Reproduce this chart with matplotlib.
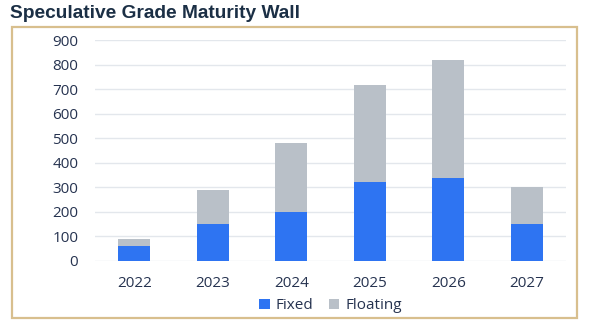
import matplotlib
matplotlib.use("Agg")
import matplotlib.pyplot as plt
from matplotlib.patches import Rectangle
import numpy as np

years = ["2022", "2023", "2024", "2025", "2026", "2027"]
fixed = [60, 150, 200, 320, 340, 150]
floating = [30, 140, 280, 395, 480, 150]
yticks = [0, 100, 200, 300, 400, 500, 600, 700, 800, 900]

fig = plt.figure(figsize=(5.94, 3.28), dpi=100)
W, H = 594, 328

fig.text(10/W, 1 - 14/H, "Speculative Grade Maturity Wall", fontsize=13.8, fontweight="bold",
         family="Liberation Sans", color="#1b2f45", va="center", ha="left")

border = Rectangle((12/W, 1 - 318/H), (577-12)/W, (318-27)/H, transform=fig.transFigure,
                   fill=False, edgecolor="#d8bf8e", linewidth=1.6)
fig.patches.append(border)

ax = fig.add_axes([95/W, 1 - 261/H, (566-95)/W, (261-40)/H])
x = np.arange(len(years))
ax.bar(x, fixed, width=0.41, color="#2e74f2", label="Fixed", zorder=3)
ax.bar(x, floating, width=0.41, bottom=fixed, color="#b9c0c8", label="Floating", zorder=3)
ax.set_xlim(-0.5, 5.5)
ax.set_ylim(0, 900)
ax.set_yticks(yticks)
ax.set_xticks(x)
ax.set_xticklabels(years)
tc = "#263350"
ax.tick_params(axis="both", length=0, labelsize=11, labelcolor=tc)
ax.tick_params(axis="y", pad=12)
ax.tick_params(axis="x", pad=11)
for lab in ax.get_xticklabels() + ax.get_yticklabels():
    lab.set_family("Open Sans")
ax.grid(axis="y", color="#e3e7ec", linewidth=1, zorder=0)
for s in ax.spines.values():
    s.set_visible(False)
ax.set_facecolor("none")

leg = ax.legend(loc="upper center", bbox_to_anchor=(0.5, -0.135), ncol=2, frameon=False,
                prop={"family": "Open Sans", "size": 11}, handlelength=0.7, handleheight=0.7,
                handletextpad=0.4, columnspacing=1.0, borderpad=0)
for t in leg.get_texts():
    t.set_color(tc)

fig.savefig("out.png", dpi=100)
